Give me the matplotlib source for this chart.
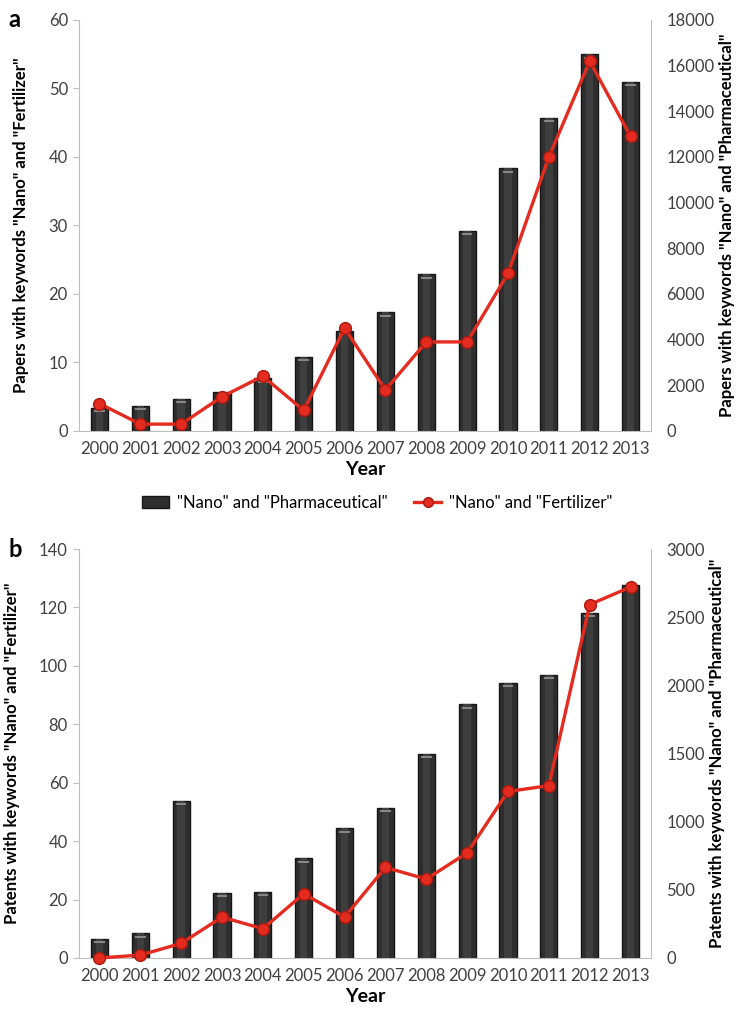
import numpy as np
import matplotlib.pyplot as plt
from matplotlib.patches import Patch
from matplotlib.lines import Line2D

plt.rcParams['font.family'] = ['Lato', 'DejaVu Sans']

years = ['2000', '2001', '2002', '2003', '2004', '2005', '2006',
         '2007', '2008', '2009', '2010', '2011', '2012', '2013']

# papers (panel a)
papers_pharma = [1000, 1100, 1400, 1700, 2300, 3250, 4400,
                 5200, 6860, 8750, 11500, 13700, 16500, 15300]
papers_fert = [4, 1, 1, 5, 8, 3, 15, 6, 13, 13, 23, 40, 54, 43]

# patents (panel b)
patents_pharma = [140, 180, 1150, 480, 485, 730, 950,
                  1100, 1500, 1860, 2020, 2075, 2530, 2735]
patents_fert = [0, 1, 5, 14, 10, 22, 14, 31, 27, 36, 57, 59, 121, 127]

RED = '#e42b1f'
BAR = '#2e2e2e'
GRID = '#bdbdbd'
TXT = '#404040'


def panel(rect, fert, pharma, lmax, lstep, rmax, rstep, lname, rname, tag):
    ax = fig.add_axes(rect)
    ax2 = ax.twinx()
    x = np.arange(len(years))

    # bars on the right-hand scale
    ax2.bar(x, pharma, width=0.42, color=BAR, edgecolor='#151515', linewidth=1.0, zorder=2)
    ax2.bar(x, pharma, width=0.18, color='#3e3e3e', linewidth=0, zorder=3)
    off = rmax * 0.008
    ax2.hlines(np.array(pharma) - off, x - 0.13, x + 0.13, color='#8a8a8a', lw=1.4, zorder=4)
    ax2.set_ylim(0, rmax)
    ax2.set_yticks(np.arange(0, rmax + 1, rstep))
    ax2.tick_params(axis='y', length=0, pad=11, labelsize=12, labelcolor=TXT)
    for s in ['top', 'left', 'bottom']:
        ax2.spines[s].set_visible(False)
    ax2.spines['right'].set_color(GRID)
    ax2.set_ylabel(rname, fontsize=12, fontweight='bold', labelpad=3)

    # line on the left-hand scale, drawn above the bars
    ax.set_zorder(ax2.get_zorder() + 1)
    ax.patch.set_visible(False)
    ax.plot(x, fert, color=RED, lw=2.4, marker='o', markersize=8.5,
            markerfacecolor=RED, markeredgecolor='#a81a10', markeredgewidth=1.0,
            zorder=5, clip_on=False)
    ax.set_ylim(0, lmax)
    ax.set_yticks(np.arange(0, lmax + 1, lstep))
    ax.set_xlim(-0.5, len(years) - 0.5)
    ax.set_xticks(x)
    ax.set_xticklabels(years)
    ax.tick_params(axis='y', length=4, color=GRID, labelsize=12, labelcolor=TXT, pad=4)
    ax.tick_params(axis='x', length=0, labelsize=12, labelcolor=TXT, pad=7)
    for s in ['top', 'right']:
        ax.spines[s].set_visible(False)
    ax.spines['left'].set_color(GRID)
    ax.spines['bottom'].set_color(GRID)
    ax.set_ylabel(lname, fontsize=12, fontweight='bold', labelpad=14)
    ax.set_xlabel('Year', fontsize=14, fontweight='bold', labelpad=3)
    top = rect[1] + rect[3]
    fig.text(0.012, top, tag, fontsize=17, fontweight='bold', va='center', ha='left')
    return ax


fig = plt.figure(figsize=(7.37, 10.10), dpi=100)

panel([0.1072, 0.5733, 0.7761, 0.4069], papers_fert, papers_pharma, 60, 10, 18000, 2000,
      'Papers with keywords "Nano" and "Fertilizer"',
      'Papers with keywords "Nano" and "Pharmaceutical"', 'a')
panel([0.1072, 0.0515, 0.7761, 0.4049], patents_fert, patents_pharma, 140, 20, 3000, 500,
      'Patents with keywords "Nano" and "Fertilizer"',
      'Patents with keywords "Nano" and "Pharmaceutical"', 'b')

handles = [Patch(facecolor=BAR, edgecolor='#151515'),
           Line2D([], [], color=RED, lw=2.4, marker='o', markersize=7,
                  markerfacecolor=RED, markeredgecolor='#a81a10')]
fig.legend(handles, ['"Nano" and "Pharmaceutical"', '"Nano" and "Fertilizer"'],
           loc='center', bbox_to_anchor=(0.512, 0.502), ncol=2, frameon=False,
           fontsize=12, handlelength=1.6, columnspacing=1.6, handletextpad=0.5)

fig.savefig('out.png', dpi=100)
